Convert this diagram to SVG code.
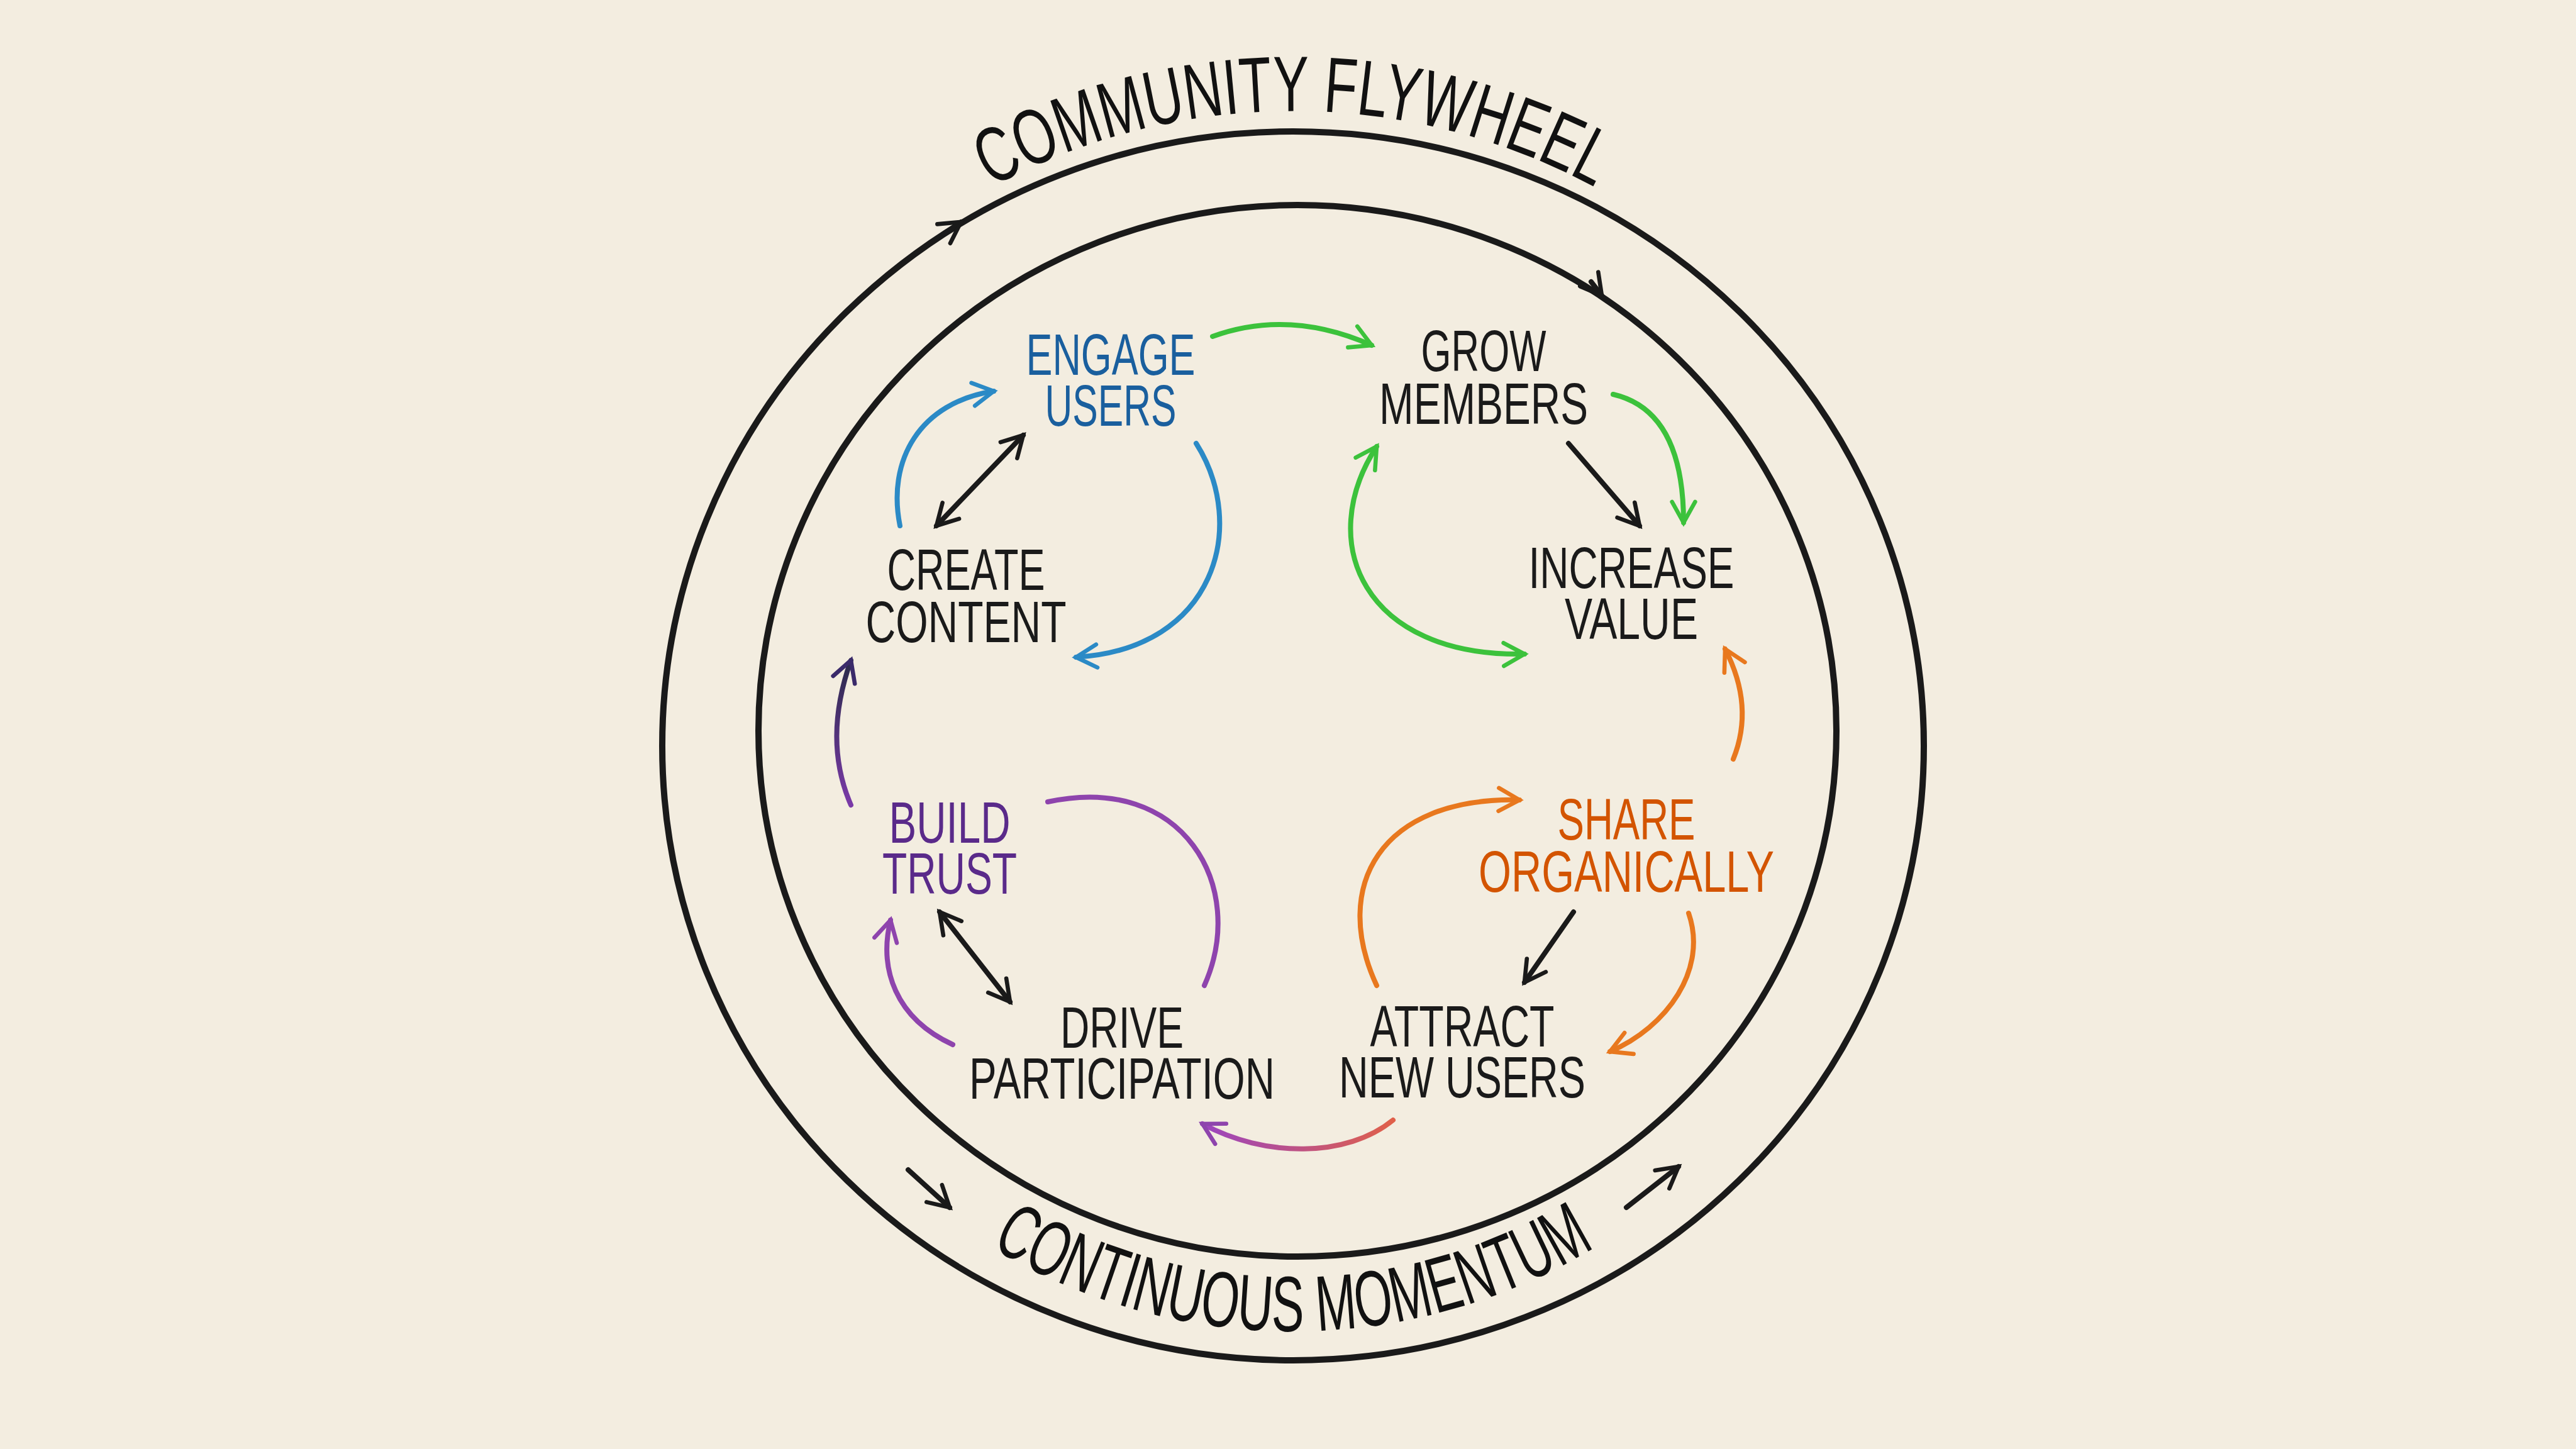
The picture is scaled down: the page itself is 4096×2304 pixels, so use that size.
<svg xmlns="http://www.w3.org/2000/svg" width="4096" height="2304" viewBox="0 0 4096 2304">
<style>
.lbl{font-family:"Liberation Sans","DejaVu Sans",sans-serif;font-size:92px;text-anchor:middle}
.ring{fill:none;stroke:#1a1a1a;stroke-width:10}
.title{font-family:"Liberation Sans","DejaVu Sans",sans-serif;font-size:125px;fill:#111}
.a{fill:none;stroke-width:8;stroke-linecap:round}
.k{stroke:#1a1a1a}.g{stroke:#3cc23c}.b{stroke:#2b8ac6}.o{stroke:#e8781e}.p{stroke:#8e44ad}
</style>
<defs>
<marker id="mk" viewBox="0 0 12 12" refX="10" refY="6" markerWidth="44" markerHeight="44" markerUnits="userSpaceOnUse" orient="auto-start-reverse"><path d="M1,1 L10,6 L1,11" fill="none" stroke="#1a1a1a" stroke-width="1.8" stroke-linecap="round"/></marker>
<marker id="mg" viewBox="0 0 12 12" refX="10" refY="6" markerWidth="44" markerHeight="44" markerUnits="userSpaceOnUse" orient="auto-start-reverse"><path d="M1,1 L10,6 L1,11" fill="none" stroke="#3cc23c" stroke-width="1.8" stroke-linecap="round"/></marker>
<marker id="mb" viewBox="0 0 12 12" refX="10" refY="6" markerWidth="44" markerHeight="44" markerUnits="userSpaceOnUse" orient="auto-start-reverse"><path d="M1,1 L10,6 L1,11" fill="none" stroke="#2b8ac6" stroke-width="1.8" stroke-linecap="round"/></marker>
<marker id="mo" viewBox="0 0 12 12" refX="10" refY="6" markerWidth="44" markerHeight="44" markerUnits="userSpaceOnUse" orient="auto-start-reverse"><path d="M1,1 L10,6 L1,11" fill="none" stroke="#e8781e" stroke-width="1.8" stroke-linecap="round"/></marker>
<marker id="mp" viewBox="0 0 12 12" refX="10" refY="6" markerWidth="44" markerHeight="44" markerUnits="userSpaceOnUse" orient="auto-start-reverse"><path d="M1,1 L10,6 L1,11" fill="none" stroke="#8e44ad" stroke-width="1.8" stroke-linecap="round"/></marker>
<marker id="md" viewBox="0 0 12 12" refX="10" refY="6" markerWidth="44" markerHeight="44" markerUnits="userSpaceOnUse" orient="auto-start-reverse"><path d="M1,1 L10,6 L1,11" fill="none" stroke="#3a2a6a" stroke-width="1.8" stroke-linecap="round"/></marker>
<linearGradient id="gpk" x1="1" y1="0" x2="0" y2="0"><stop offset="0" stop-color="#e0604a"/><stop offset="1" stop-color="#9b45c0"/></linearGradient>
<linearGradient id="gdk" x1="0" y1="1" x2="0" y2="0"><stop offset="0" stop-color="#7a3aa8"/><stop offset="1" stop-color="#2a2a4a"/></linearGradient>
<path id="tp" d="M1477,359 A1010,1010 0 0 1 2635,359"/>
<path id="bp" d="M1398,1844 A930,930 0 0 0 2714,1844"/>
</defs>
<rect width="4096" height="2304" fill="#f3ede0"/>
<g id="rings">
<ellipse class="ring" cx="2056" cy="1186" rx="1003" ry="977"/>
<ellipse class="ring" cx="2063" cy="1162" rx="857" ry="836"/>
</g>
<g id="title"><text class="title"><textPath href="#tp" startOffset="50%" text-anchor="middle" textLength="1000" lengthAdjust="spacingAndGlyphs">COMMUNITY FLYWHEEL</textPath></text></g>
<g id="subtitle"><text class="title" font-size="115"><textPath href="#bp" startOffset="50%" text-anchor="middle" textLength="1010" lengthAdjust="spacingAndGlyphs">CONTINUOUS MOMENTUM</textPath></text></g>
<g id="n-engage" fill="#1a5f9e"><text class="lbl" x="1766" y="596" textLength="269" lengthAdjust="spacingAndGlyphs">ENGAGE</text><text class="lbl" x="1766" y="677" textLength="209" lengthAdjust="spacingAndGlyphs">USERS</text></g>
<g id="n-grow" fill="#1a1a1a"><text class="lbl" x="2359" y="590" textLength="199" lengthAdjust="spacingAndGlyphs">GROW</text><text class="lbl" x="2359" y="674" textLength="332" lengthAdjust="spacingAndGlyphs">MEMBERS</text></g>
<g id="n-create" fill="#1a1a1a"><text class="lbl" x="1536" y="938" textLength="251" lengthAdjust="spacingAndGlyphs">CREATE</text><text class="lbl" x="1536" y="1021" textLength="319" lengthAdjust="spacingAndGlyphs">CONTENT</text></g>
<g id="n-increase" fill="#1a1a1a"><text class="lbl" x="2594" y="935" textLength="327" lengthAdjust="spacingAndGlyphs">INCREASE</text><text class="lbl" x="2594" y="1016" textLength="212" lengthAdjust="spacingAndGlyphs">VALUE</text></g>
<g id="n-build" fill="#5a2a8a"><text class="lbl" x="1510" y="1340" textLength="193" lengthAdjust="spacingAndGlyphs">BUILD</text><text class="lbl" x="1510" y="1421" textLength="214" lengthAdjust="spacingAndGlyphs">TRUST</text></g>
<g id="n-share" fill="#d35400"><text class="lbl" x="2586" y="1335" textLength="219" lengthAdjust="spacingAndGlyphs">SHARE</text><text class="lbl" x="2586" y="1418" textLength="470" lengthAdjust="spacingAndGlyphs">ORGANICALLY</text></g>
<g id="n-drive" fill="#1a1a1a"><text class="lbl" x="1784" y="1666" textLength="196" lengthAdjust="spacingAndGlyphs">DRIVE</text><text class="lbl" x="1784" y="1747" textLength="486" lengthAdjust="spacingAndGlyphs">PARTICIPATION</text></g>
<g id="n-attract" fill="#1a1a1a"><text class="lbl" x="2325" y="1664" textLength="293" lengthAdjust="spacingAndGlyphs">ATTRACT</text><text class="lbl" x="2325" y="1745" textLength="392" lengthAdjust="spacingAndGlyphs">NEW USERS</text></g>
<g id="connectors">
<path class="a k" d="M1500,372 L1528,353" marker-end="url(#mk)"/>
<path class="a k" d="M2530,448 L2547,470" marker-end="url(#mk)"/>
<path class="a k" d="M1444,1860 L1510,1920" marker-end="url(#mk)"/>
<path class="a k" d="M2586,1920 L2669,1855" marker-end="url(#mk)"/>
<path class="a g" d="M1928,535 Q2050,491 2181,549" marker-end="url(#mg)"/>
<path class="a g" d="M2565,627 Q2677,653 2677,831" marker-end="url(#mg)"/>
<path class="a k" d="M2494,705 L2607,836" marker-end="url(#mk)"/>
<path class="a g" d="M2189,710 C2090,862 2168,1045 2424,1040" marker-start="url(#mg)" marker-end="url(#mg)"/>
<path class="a o" d="M2756,1207 Q2790,1123 2743,1032" marker-end="url(#mo)"/>
<path class="a o" d="M2189,1567 C2116,1410 2194,1267 2416,1272" marker-end="url(#mo)"/>
<path class="a o" d="M2685,1452 C2716,1541 2651,1633 2560,1672" marker-end="url(#mo)"/>
<path class="a k" d="M2502,1450 L2424,1562" marker-end="url(#mk)"/>
<path class="a" stroke="url(#gpk)" d="M2215,1781 C2142,1841 2011,1841 1912,1787" marker-end="url(#mp)"/>
<path class="a p" d="M1666,1275 C1881,1228 1985,1410 1915,1567"/>
<path class="a p" d="M1515,1661 C1424,1619 1397,1541 1416,1463" marker-end="url(#mp)"/>
<path class="a k" d="M1494,1450 L1606,1593" marker-start="url(#mk)" marker-end="url(#mk)"/>
<path class="a" stroke="url(#gdk)" d="M1353,1280 C1319,1202 1327,1123 1353,1050" marker-end="url(#md)"/>
<path class="a b" d="M1431,836 C1410,731 1463,640 1580,622" marker-end="url(#mb)"/>
<path class="a k" d="M1489,836 L1627,692" marker-start="url(#mk)" marker-end="url(#mk)"/>
<path class="a b" d="M1902,705 C1985,836 1933,1032 1711,1045" marker-end="url(#mb)"/>
</g>
</svg>
